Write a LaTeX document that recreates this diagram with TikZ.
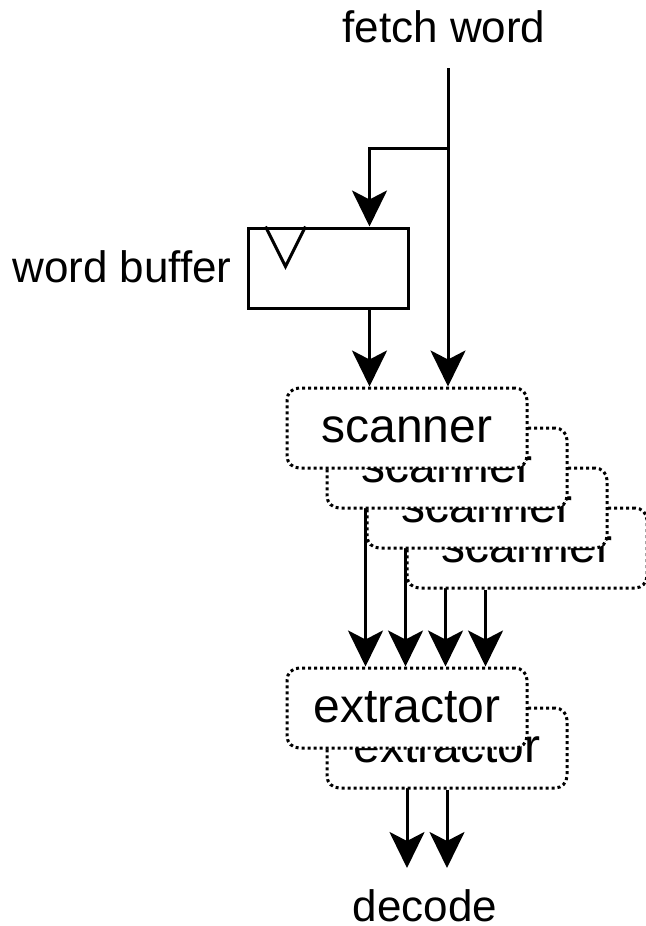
\documentclass[tikz,border=0pt]{standalone}
\usepackage{fontspec}
\setmainfont{Liberation Sans}
\usetikzlibrary{calc}
\usetikzlibrary{arrows.meta}
\usetikzlibrary{backgrounds}

\tikzset{
  unit/.style={draw=black, fill=white, line width=1.5pt, dash pattern=on 1.5pt off 1.5pt,
    rounded corners=6pt, minimum width=120pt, minimum height=40pt, inner sep=0pt,
    text height=18pt, text depth=4pt,
    font=\fontsize{24pt}{28pt}\selectfont},
  reg/.style={draw=black, fill=white, line width=1.5pt, minimum width=80pt, minimum height=40pt, inner sep=0pt},
  lbl/.style={inner sep=0pt, font=\fontsize{22pt}{26pt}\selectfont},
  arr/.style={line width=1.5pt, -{Stealth[length=18pt, width=17.5pt, inset=4.5pt]}},
}

\begin{document}
\begin{tikzpicture}[x=0.5pt, y=-0.5pt]
\useasboundingbox (0,0) rectangle (645,926);

\node[lbl, anchor=base] (fetch) at (444,42) {fetch word};
\node[lbl, anchor=base east] (buflbl) at (232,282) {word buffer};
\node[lbl, anchor=base] (dec) at (425,921) {decode};

\node[reg] (buf) at (328,268) {};
\draw[line width=1.5pt] ($(buf.north west)+(19,0)$) -- ($(buf.north west)+(39,40)$) -- ($(buf.north west)+(59,0)$);

% scanners, back to front
\node[unit] (s4) at (527,548) {scanner};
\node[unit] (s3) at (487,508) {scanner};
\node[unit] (s2) at (447,468) {scanner};
\node[unit] (s1) at (407,428) {scanner};

% extractors
\node[unit] (x2) at (447,748) {extractor};
\node[unit] (x1) at (407,708) {extractor};

\coordinate (fw) at (448,68);
\coordinate (br) at (448,148);
\coordinate (out) at (0,868);

\begin{pgfonlayer}{background}
\draw[arr] (fw) -- (s1.north -| fw);
\draw[arr] (br) -| ($(buf.north east)+(-40,0)$);
\draw[arr] ($(buf.south east)+(-40,0)$) coordinate (t) -- (t |- s1.north);
\foreach \i in {1,...,4}
  \draw[arr] ($(s\i.south west)+(80,0)$) coordinate (t) -- (t |- x1.north);
\draw[arr] (x1.south) -- (x1.south |- out);
\draw[arr] (x2.south) -- (x2.south |- out);
\end{pgfonlayer}

\end{tikzpicture}
\end{document}
